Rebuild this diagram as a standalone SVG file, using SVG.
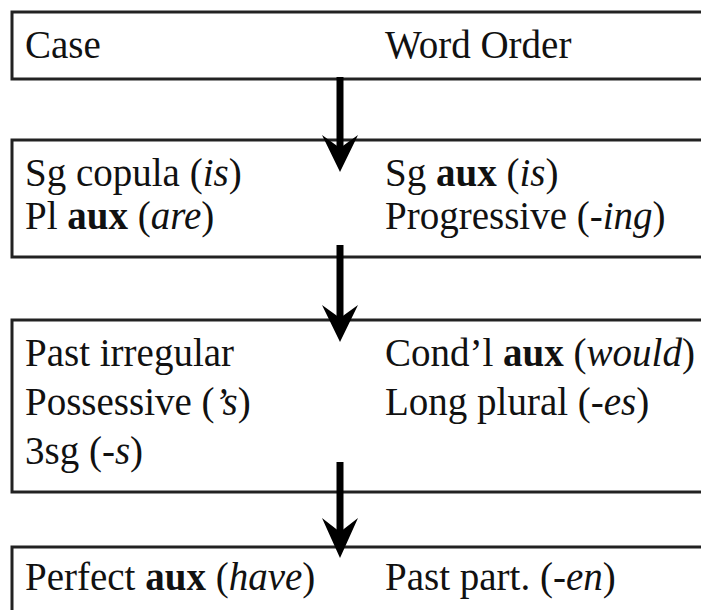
<svg xmlns="http://www.w3.org/2000/svg" width="701" height="610" viewBox="0 0 701 610">
<defs>
<style>
.box{fill:#fff;stroke:#222;stroke-width:3}
.t{font-family:'Liberation Serif','Times New Roman',serif;font-size:39px;fill:#111}
.i{font-style:italic}
.b{font-weight:bold}
.shaft{stroke:#000;stroke-width:7;fill:none}
.head{fill:#000}
</style>
</defs>
<rect width="701" height="610" fill="#fff"/>
<g id="node-1">
<rect class="box" x="12" y="12" width="700" height="67"/>
<text class="t" x="25" y="58">Case</text>
<text class="t" x="385" y="58">Word Order</text>
</g>
<g id="node-2">
<rect class="box" x="12" y="140" width="700" height="117"/>
<text class="t" x="25" y="186">Sg copula (<tspan class="i">is</tspan>)</text>
<text class="t" x="25" y="229">Pl <tspan class="b">aux</tspan> (<tspan class="i">are</tspan>)</text>
<text class="t" x="385" y="186">Sg <tspan class="b">aux</tspan> (<tspan class="i">is</tspan>)</text>
<text class="t" x="385" y="229">Progressive (-<tspan class="i">ing</tspan>)</text>
</g>
<g id="node-3">
<rect class="box" x="12" y="320" width="700" height="172"/>
<text class="t" x="25" y="366">Past irregular</text>
<text class="t" x="25" y="415">Possessive (<tspan class="i">’s</tspan>)</text>
<text class="t" x="25" y="464">3sg (-<tspan class="i">s</tspan>)</text>
<text class="t" x="385" y="366">Cond’l <tspan class="b">aux</tspan> (<tspan class="i">would</tspan>)</text>
<text class="t" x="385" y="415">Long plural (-<tspan class="i">es</tspan>)</text>
</g>
<g id="node-4">
<rect class="box" x="12" y="547" width="700" height="80"/>
<text class="t" x="25" y="590">Perfect <tspan class="b">aux</tspan> (<tspan class="i">have</tspan>)</text>
<text class="t" x="385" y="590">Past part. (-<tspan class="i">en</tspan>)</text>
</g>
<g id="connectors">
<line class="shaft" x1="340" y1="77" x2="340" y2="150"/>
<path class="head" d="M340 172 L322 135 L340 148 L358 135 Z"/>
<line class="shaft" x1="340" y1="245" x2="340" y2="320"/>
<path class="head" d="M340 342 L322 305 L340 318 L358 305 Z"/>
<line class="shaft" x1="340" y1="462" x2="340" y2="536"/>
<path class="head" d="M340 558 L322 518 L340 532 L358 518 Z"/>
</g>
</svg>
